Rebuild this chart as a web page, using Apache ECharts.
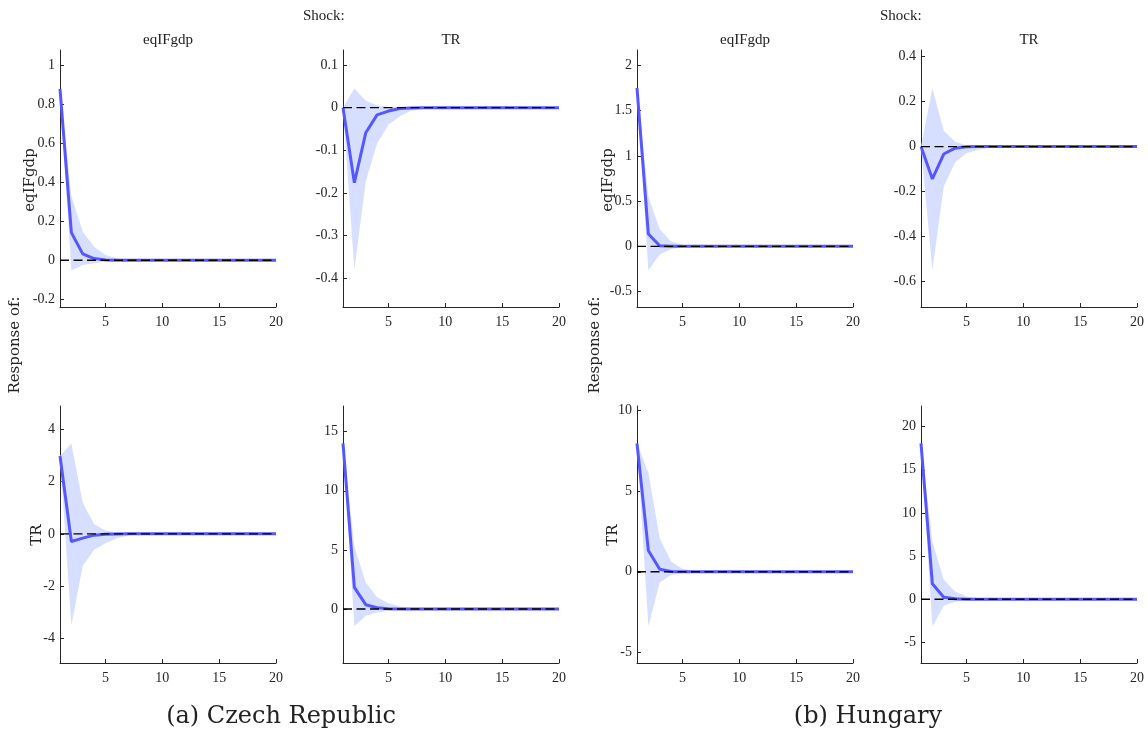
<!DOCTYPE html>
<html>
<head>
<meta charset="utf-8">
<script src="https://cdn.jsdelivr.net/npm/echarts@6/dist/echarts.min.js"></script>
<style>
html,body{margin:0;padding:0;background:#fff;}
#chart{width:1148px;height:738px;}
</style>
</head>
<body>
<div id="chart"></div>
<script>
// ---- Data ----
const periods = [1,2,3,4,5,6,7,8,9,10,11,12,13,14,15,16,17,18,19,20];
const xTicks = [5,10,15,20];

// Czech Republic
const cz_e_e_line = [0.88,0.142,0.033,0.009,0.002,0.0005,0,0,0,0,0,0,0,0,0,0,0,0,0,0];
const cz_e_e_lo   = [0.88,-0.053,-0.024,-0.015,-0.006,-0.003,-0.001,0,0,0,0,0,0,0,0,0,0,0,0,0];
const cz_e_e_hi   = [0.88,0.33,0.147,0.07,0.027,0.01,0.004,0.001,0,0,0,0,0,0,0,0,0,0,0,0];

const cz_e_tr_line = [0,-0.176,-0.059,-0.017,-0.008,-0.002,-0.001,0,0,0,0,0,0,0,0,0,0,0,0,0];
const cz_e_tr_lo   = [0,-0.38,-0.173,-0.084,-0.04,-0.02,-0.007,-0.003,-0.001,0,0,0,0,0,0,0,0,0,0,0];
const cz_e_tr_hi   = [0,0.045,0.016,0.005,0.002,0.001,0,0,0,0,0,0,0,0,0,0,0,0,0,0];

const cz_tr_e_line = [2.97,-0.29,-0.165,-0.05,-0.013,-0.003,0,0,0,0,0,0,0,0,0,0,0,0,0,0];
const cz_tr_e_lo   = [2.97,-3.5,-1.22,-0.61,-0.36,-0.17,-0.06,-0.02,-0.005,0,0,0,0,0,0,0,0,0,0,0];
const cz_tr_e_hi   = [2.97,3.45,1.19,0.37,0.13,0.05,0.015,0.005,0,0,0,0,0,0,0,0,0,0,0,0];

const cz_tr_tr_line = [14.0,1.83,0.37,0.11,0.03,0.01,0,0,0,0,0,0,0,0,0,0,0,0,0,0];
const cz_tr_tr_lo   = [14.0,-1.46,-0.56,-0.28,-0.14,-0.06,-0.02,-0.01,0,0,0,0,0,0,0,0,0,0,0,0];
const cz_tr_tr_hi   = [14.0,5.3,2.25,1.0,0.5,0.22,0.08,0.03,0.01,0,0,0,0,0,0,0,0,0,0,0];

// Hungary
const hu_e_e_line = [1.75,0.136,0.007,0.001,0,0,0,0,0,0,0,0,0,0,0,0,0,0,0,0];
const hu_e_e_lo   = [1.75,-0.265,-0.09,-0.03,-0.01,-0.003,0,0,0,0,0,0,0,0,0,0,0,0,0,0];
const hu_e_e_hi   = [1.75,0.55,0.19,0.055,0.018,0.005,0.001,0,0,0,0,0,0,0,0,0,0,0,0,0];

const hu_e_tr_line = [0,-0.144,-0.033,-0.007,-0.001,0,0,0,0,0,0,0,0,0,0,0,0,0,0,0];
const hu_e_tr_lo   = [0,-0.55,-0.178,-0.071,-0.03,-0.015,-0.005,-0.001,0,0,0,0,0,0,0,0,0,0,0,0];
const hu_e_tr_hi   = [0,0.26,0.071,0.022,0.006,0.002,0,0,0,0,0,0,0,0,0,0,0,0,0,0];

const hu_tr_e_line = [7.94,1.32,0.16,0.02,0.003,0,0,0,0,0,0,0,0,0,0,0,0,0,0,0];
const hu_tr_e_lo   = [7.94,-3.37,-0.66,-0.2,-0.06,-0.02,-0.005,0,0,0,0,0,0,0,0,0,0,0,0,0];
const hu_tr_e_hi   = [7.94,6.13,2.08,0.64,0.19,0.05,0.015,0,0,0,0,0,0,0,0,0,0,0,0,0];

const hu_tr_tr_line = [18.07,1.78,0.23,0.04,0.005,0,0,0,0,0,0,0,0,0,0,0,0,0,0,0];
const hu_tr_tr_lo   = [18.07,-3.17,-0.77,-0.31,-0.08,-0.02,0,0,0,0,0,0,0,0,0,0,0,0,0,0];
const hu_tr_tr_hi   = [18.07,6.68,2.24,0.89,0.31,0.1,0.03,0.01,0,0,0,0,0,0,0,0,0,0,0,0];

// y tick labels per panel
const yTicks_cz_e_e  = [-0.2,0,0.2,0.4,0.6,0.8,1];
const yTicks_cz_e_tr = [-0.4,-0.3,-0.2,-0.1,0,0.1];
const yTicks_cz_tr_e = [-4,-2,0,2,4];
const yTicks_cz_tr_tr= [0,5,10,15];
const yTicks_hu_e_e  = [-0.5,0,0.5,1,1.5,2];
const yTicks_hu_e_tr = [-0.6,-0.4,-0.2,0,0.2,0.4];
const yTicks_hu_tr_e = [-5,0,5,10];
const yTicks_hu_tr_tr= [-5,0,5,10,15,20];

const shockNames = ['eqIFgdp','TR'];
const responseNames = ['eqIFgdp','TR'];
const captions = ['(a) Czech Republic','(b) Hungary'];

// ---- Layout / panels ----
const panels = [
  {line:cz_e_e_line, lo:cz_e_e_lo, hi:cz_e_e_hi, ticks:yTicks_cz_e_e, min:-0.24, max:1.08, left:60, top:50},
  {line:cz_e_tr_line, lo:cz_e_tr_lo, hi:cz_e_tr_hi, ticks:yTicks_cz_e_tr, min:-0.467, max:0.135, left:343, top:50},
  {line:cz_tr_e_line, lo:cz_tr_e_lo, hi:cz_tr_e_hi, ticks:yTicks_cz_tr_e, min:-4.93, max:4.88, left:60, top:406},
  {line:cz_tr_tr_line, lo:cz_tr_tr_lo, hi:cz_tr_tr_hi, ticks:yTicks_cz_tr_tr, min:-4.56, max:17.17, left:343, top:406},
  {line:hu_e_e_line, lo:hu_e_e_lo, hi:hu_e_e_hi, ticks:yTicks_hu_e_e, min:-0.67, max:2.17, left:637, top:50},
  {line:hu_e_tr_line, lo:hu_e_tr_lo, hi:hu_e_tr_hi, ticks:yTicks_hu_e_tr, min:-0.714, max:0.43, left:921, top:50},
  {line:hu_tr_e_line, lo:hu_tr_e_lo, hi:hu_tr_e_hi, ticks:yTicks_hu_tr_e, min:-5.64, max:10.25, left:637, top:406},
  {line:hu_tr_tr_line, lo:hu_tr_tr_lo, hi:hu_tr_tr_hi, ticks:yTicks_hu_tr_tr, min:-7.4, max:22.4, left:921, top:406}
];
const PW = 216, PH = 257;
const axisColor = '#262626';
const tickFont = 'Liberation Serif';
const lineColor = '#5757ff';
const bandColor = '#d6dfff';

const grids = [], xAxes = [], yAxes = [], series = [];
panels.forEach((p, i) => {
  grids.push({left:p.left, top:p.top, width:PW, height:PH, containLabel:false});
  xAxes.push({
    type:'value', gridIndex:i, min:1, max:20,
    axisLine:{show:true, onZero:false, lineStyle:{color:axisColor, width:1}},
    axisTick:{show:true, inside:true, length:4, customValues:xTicks, lineStyle:{color:axisColor}},
    axisLabel:{customValues:xTicks, color:axisColor, fontFamily:tickFont, fontSize:14, margin:8},
    splitLine:{show:false}
  });
  yAxes.push({
    type:'value', gridIndex:i, min:p.min, max:p.max,
    axisLine:{show:true, onZero:false, lineStyle:{color:axisColor, width:1}},
    axisTick:{show:true, inside:true, length:4, customValues:p.ticks, lineStyle:{color:axisColor}},
    axisLabel:{customValues:p.ticks, color:axisColor, fontFamily:tickFont, fontSize:14, margin:5,
      formatter:(v)=>String(+v.toFixed(4))},
    splitLine:{show:false}
  });
  const bandData = periods.map((x,k)=>[x, p.lo[k], p.hi[k]]);
  series.push({
    type:'custom', xAxisIndex:i, yAxisIndex:i, silent:true, z:1, clip:true,
    data: bandData,
    encode:{x:0, y:[1,2]},
    renderItem:(params, api) => {
      if (params.dataIndex !== 0) return null;
      const upper = bandData.map(d => api.coord([d[0], d[2]]));
      const lower = bandData.map(d => api.coord([d[0], d[1]])).reverse();
      return {type:'polygon', shape:{points: upper.concat(lower)}, style:{fill:bandColor, stroke:null}};
    }
  });
  series.push({
    type:'line', xAxisIndex:i, yAxisIndex:i,
    data: periods.map((x,k)=>[x, p.line[k]]),
    symbol:'none', lineStyle:{color:lineColor, width:3}, silent:true, z:3
  });
  series.push({
    type:'line', xAxisIndex:i, yAxisIndex:i,
    data: periods.map((x)=>[x, 0]),
    symbol:'none', lineStyle:{color:'#000', width:1.4, type:[9,4.5]}, silent:true, z:4
  });
});

const titleFont = 'Liberation Serif';
const labelFont = 'DejaVu Serif';
const graphics = [];
function txt(x, y, s, font, size, opts) {
  graphics.push({
    type:'text', x:x, y:y,
    style:{text:s, fontFamily:font, fontSize:size, fill:'#222', textAlign:'center', textVerticalAlign:'middle',
      fontWeight:(opts&&opts.weight)||'normal'},
    rotation:(opts&&opts.rot)||0
  });
}
// column titles
const colCenters = [60+PW/2, 343+PW/2, 637+PW/2, 921+PW/2];
colCenters.forEach((c,i)=>txt(c, 40, shockNames[i%2], titleFont, 15));
// Shock labels
graphics.push({type:'text', x:303, y:16, style:{text:'Shock:', fontFamily:titleFont, fontSize:15, fill:'#222', textAlign:'left', textVerticalAlign:'middle'}});
graphics.push({type:'text', x:880, y:16, style:{text:'Shock:', fontFamily:titleFont, fontSize:15, fill:'#222', textAlign:'left', textVerticalAlign:'middle'}});
// row labels
txt(30, 180, responseNames[0], labelFont, 15, {rot:Math.PI/2});
txt(37, 535, responseNames[1], labelFont, 15, {rot:Math.PI/2});
txt(608, 180, responseNames[0], labelFont, 15, {rot:Math.PI/2});
txt(613, 535, responseNames[1], labelFont, 15, {rot:Math.PI/2});
txt(15, 345, 'Response of:', labelFont, 15, {rot:Math.PI/2});
txt(595, 345, 'Response of:', labelFont, 15, {rot:Math.PI/2});
// captions
txt(281, 717, captions[0], 'DejaVu Serif', 24);
txt(868, 717, captions[1], 'DejaVu Serif', 24);

const chart = echarts.init(document.getElementById('chart'), null, {renderer:'canvas'});
chart.setOption({
  animation:false,
  backgroundColor:'#fff',
  grid:grids, xAxis:xAxes, yAxis:yAxes, series:series,
  graphic:graphics
});
</script>
</body>
</html>
